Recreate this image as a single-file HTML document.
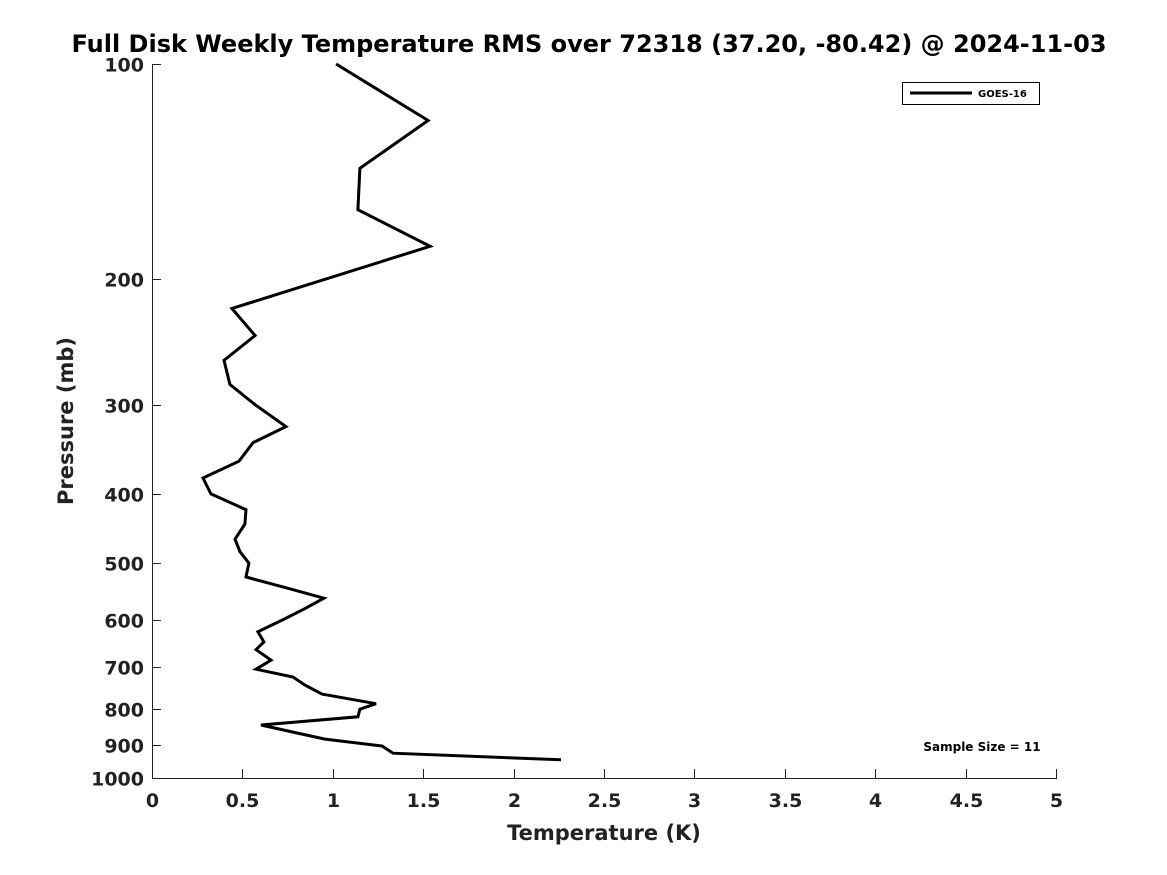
<!DOCTYPE html>
<html><head><meta charset="utf-8"><style>
body{margin:0;background:#fff;}
svg{display:block;font-family:"DejaVu Sans","Liberation Sans",sans-serif;font-weight:bold;}
</style></head><body>
<svg id="chart" width="1167" height="875" viewBox="0 0 1167 875" xmlns="http://www.w3.org/2000/svg">
<rect width="1167" height="875" fill="#fff"/>
<text x="589" y="52" text-anchor="middle" font-size="24" fill="#000">Full Disk Weekly Temperature RMS over 72318 (37.20, -80.42) @ 2024-11-03</text>
<g id="axes"></g>
<path id="series" fill="none" stroke="#000" stroke-width="3" stroke-linejoin="miter"/>
<g>
<rect x="902.5" y="82.5" width="137" height="22" fill="#fff" stroke="#000" stroke-width="1"/>
<line x1="910" y1="93" x2="972" y2="93" stroke="#000" stroke-width="3"/>
<text x="978" y="97" font-size="10" fill="#000">GOES-16</text>
</g>
<text x="982" y="751" text-anchor="middle" font-size="12" fill="#000">Sample Size = 11</text>
<text x="604" y="840" text-anchor="middle" font-size="21" fill="#222">Temperature (K)</text>
<text transform="translate(73,421) rotate(-90)" text-anchor="middle" font-size="21" fill="#222">Pressure (mb)</text>
</svg>
<script>
const temps=[1.018,1.527,1.150,1.139,1.538,0.442,0.570,0.398,0.431,0.570,0.741,0.559,0.481,0.282,0.326,0.520,0.514,0.459,0.487,0.536,0.520,0.747,0.951,0.846,0.725,0.586,0.619,0.575,0.658,0.575,0.780,0.846,0.940,1.239,1.150,1.139,0.603,0.802,0.957,1.272,1.333,2.262];
const pressures=[100,120,140,160,180,220,240,260,281,300,322,339,360,380,400,421,441,463,482,500,523,542,560,579,600,624,645,661,684,704,722,741,763,787,801,821,843,865,882,902,923,943];
const xTicks=[0,0.5,1,1.5,2,2.5,3,3.5,4,4.5,5];
const xTickLabels=["0","0.5","1","1.5","2","2.5","3","3.5","4","4.5","5"];
const yTicks=[100,200,300,400,500,600,700,800,900,1000];
const L=152,R=1056,T=64,B=778;
const xs=v=>L+(v-0)/(5-0)*(R-L);
const ys=p=>T+(Math.log10(p)-2)/(3-2)*(B-T);
const ns="http://www.w3.org/2000/svg";
const ax=document.getElementById('axes');
function mk(tag,attrs,parent){const e=document.createElementNS(ns,tag);for(const k in attrs)e.setAttribute(k,attrs[k]);(parent||ax).appendChild(e);return e;}
const xl=mk('line',{x1:L,y1:B+0.5,x2:R+1,y2:B+0.5,stroke:'#222','stroke-width':1});


const yl=mk('line',{x1:L+0.5,y1:T,x2:L+0.5,y2:B+1,stroke:'#222','stroke-width':1});


xTicks.forEach((v,i)=>{const x=Math.round(xs(v))+0.5;
 const t=mk('line',{x1:x,y1:B,x2:x,y2:B-9,stroke:'#222','stroke-width':1});
 
 
 const tx=mk('text',{x:x,y:B+29,'text-anchor':'middle','font-size':19,fill:'#222'});
 
 
 tx.textContent=xTickLabels[i];});
yTicks.forEach(p=>{const y=Math.round(ys(p))+0.5;
 const t=mk('line',{x1:L,y1:y,x2:L+9,y2:y,stroke:'#222','stroke-width':1});
 
 
 const tx=mk('text',{x:L-8,y:y+7,'text-anchor':'end','font-size':19,fill:'#222'});
 
 
 tx.textContent=String(p);});
let d='';temps.forEach((t,i)=>{d+=(i?'L':'M')+xs(t).toFixed(1)+','+ys(pressures[i]).toFixed(1);});
document.getElementById('series').setAttribute('d',d);
</script>
</body></html>
